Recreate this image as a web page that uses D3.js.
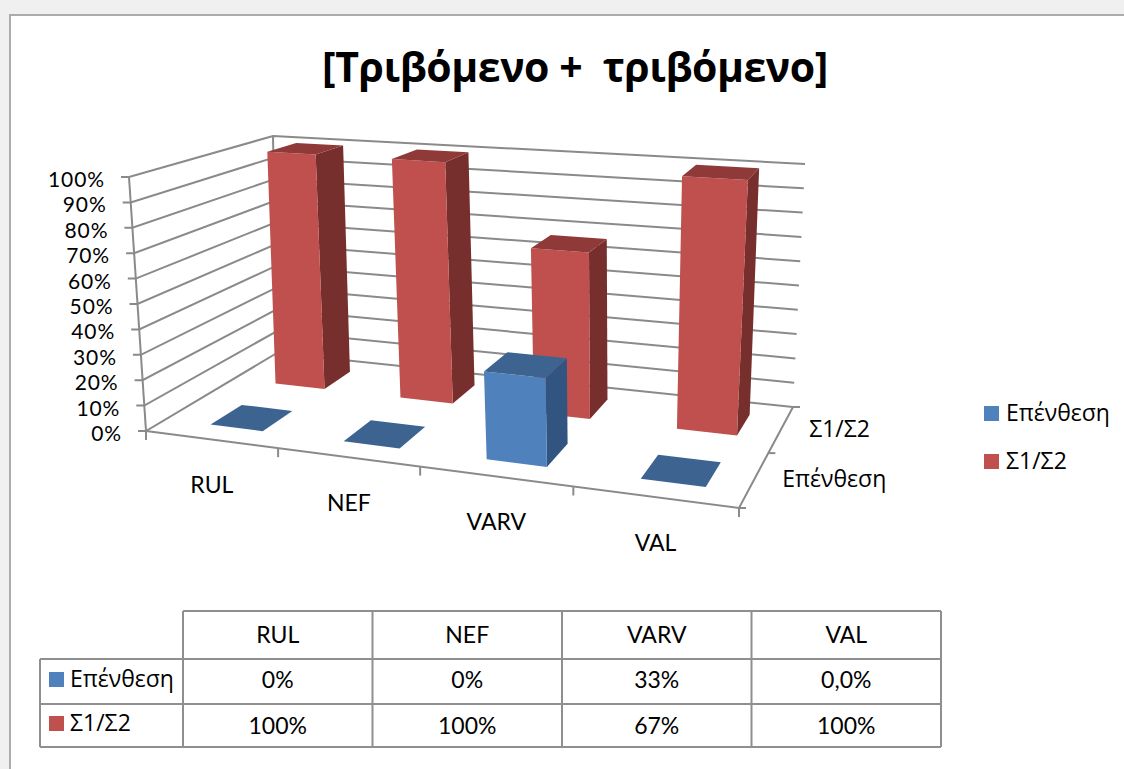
<!DOCTYPE html>
<html>
<head>
<meta charset="utf-8">
<script src="https://cdn.jsdelivr.net/npm/d3@7"></script>
<style>
  html, body { margin: 0; padding: 0; background: #f0f0f0; }
  svg { display: block; }
  text { font-family: "Open Sans", "Noto Sans", sans-serif; fill: #000; white-space: pre; }
  text.latin { font-family: Lato, "Open Sans", sans-serif; }
</style>
</head>
<body>
<script>
const categories = ["RUL", "NEF", "VARV", "VAL"];
const seriesNames = ["Επένθεση", "Σ1/Σ2"];
const epenthesi = [0, 0, 33, 0];
const s1s2 = [100, 100, 67, 100];
const epenthesiLabels = ["0%", "0%", "33%", "0,0%"];
const s1s2Labels = ["100%", "100%", "67%", "100%"];
const zTicks = [0, 10, 20, 30, 40, 50, 60, 70, 80, 90, 100];

const canvasW = 1124, canvasH = 769;
const labelSize = "23px";

const svg = d3.select("body").append("svg")
  .attr("width", canvasW)
  .attr("height", canvasH);

// chart sheet
svg.append("rect")
  .attr("x", 10).attr("y", 15)
  .attr("width", canvasW + 20).attr("height", canvasH + 20)
  .attr("fill", "white")
  .attr("stroke", "#ababab")
  .attr("stroke-width", 2);

svg.append("text")
  .attr("x", 575).attr("y", 82)
  .attr("text-anchor", "middle")
  .attr("font-size", "41px")
  .attr("font-weight", "bold")
  .attr("letter-spacing", "-0.45px")
  .text("[Τριβόμενο +  τριβόμενο]");

// unit square -> quad, corners in order (0,0) (1,0) (1,1) (0,1)
function quadMap(q) {
  const [p0, p1, p2, p3] = q;
  const dx1 = p1[0] - p2[0], dx2 = p3[0] - p2[0], sx = p0[0] - p1[0] + p2[0] - p3[0];
  const dy1 = p1[1] - p2[1], dy2 = p3[1] - p2[1], sy = p0[1] - p1[1] + p2[1] - p3[1];
  const det = dx1 * dy2 - dx2 * dy1;
  const g = (sx * dy2 - dx2 * sy) / det;
  const h = (dx1 * sy - sx * dy1) / det;
  const a = p1[0] - p0[0] + g * p1[0], b = p3[0] - p0[0] + h * p3[0], c = p0[0];
  const d = p1[1] - p0[1] + g * p1[1], e = p3[1] - p0[1] + h * p3[1], f = p0[1];
  return (u, v) => {
    const w = g * u + h * v + 1;
    return [(a * u + b * v + c) / w, (d * u + e * v + f) / w];
  };
}

const floorMap = quadMap([[146, 431], [739, 508], [793, 407], [277, 353]]);
const roofMap = quadMap([[129, 177], [759, 223], [805, 164], [273, 136]]);

const xScale = d3.scaleBand().domain(categories).range([0, 1]);
const depthScale = d3.scaleBand().domain(seriesNames).range([0, 1]);
const zScale = d3.scaleLinear().domain([0, 100]).range([0, 1]);

function project(u, v, z) {
  const a = floorMap(u, v), b = roofMap(u, v);
  return [a[0] + (b[0] - a[0]) * z, a[1] + (b[1] - a[1]) * z];
}

const line = d3.line();
const gridColor = "#8a8a8a";
const axes = svg.append("g").attr("fill", "none").attr("stroke", gridColor).attr("stroke-width", 2);

// walls
zTicks.forEach(t => {
  const z = zScale(t);
  const p = project(0, 0, z);
  axes.append("path").attr("d", line([[p[0] - 8, p[1]], p, project(0, 1, z), project(1, 1, z)]));
  // 21px so the line boxes stay inside the 25px tick spacing
  svg.append("text")
    .attr("class", "latin")
    .attr("x", p[0] - 24)
    .attr("y", p[1] + 10)
    .attr("text-anchor", "end")
    .attr("font-size", "21px")
    .attr("letter-spacing", "0.9px")
    .text(t + "%");
});
axes.append("path").attr("d", line([project(0, 0, 0), project(0, 0, 1)]));
axes.append("path").attr("d", line([project(0, 1, 0), project(0, 1, 1)]));

// floor edges and their ticks
axes.append("path").attr("d", line([project(0, 0, 0), project(1, 0, 0), project(1, 1, 0)]));
[0, 0.25, 0.5, 0.75, 1].forEach(u => {
  const p = project(u, 0, 0);
  axes.append("path").attr("d", line([p, [p[0], p[1] + 9]]));
});
[0, 0.5, 1].forEach(v => {
  const p = project(1, v, 0);
  axes.append("path").attr("d", line([p, [p[0] + 7, p[1]]]));
});

// category + depth labels
categories.forEach(c => {
  const p = project(xScale(c) + xScale.bandwidth() / 2, 0, 0);
  svg.append("text")
    .attr("class", "latin")
    .attr("x", p[0] + 1)
    .attr("y", p[1] + 54)
    .attr("text-anchor", "middle")
    .attr("font-size", labelSize)
    .text(c);
});
seriesNames.forEach(s => {
  const p = project(1, depthScale(s) + depthScale.bandwidth() / 2, 0);
  svg.append("text")
    .attr("x", p[0] + 28)
    .attr("y", p[1] + 8)
    .attr("font-size", labelSize)
    .text(s);
});

// bars, back row first so the blue ones sit in front
const barColors = {
  "Επένθεση": { front: "#4f81bd", side: "#325480", top: "#3d6491" },
  "Σ1/Σ2": { front: "#c0504d", side: "#772f2d", top: "#8f3a38" }
};
const seriesValues = { "Επένθεση": epenthesi, "Σ1/Σ2": s1s2 };
const padLeft = 0.35, padRight = 0.25;
const padDepth = 0.27;

const bars = svg.append("g");
["Σ1/Σ2", "Επένθεση"].forEach(s => {
  categories.forEach((c, i) => {
    const u0 = xScale(c) + xScale.bandwidth() * padLeft, u1 = xScale(c) + xScale.bandwidth() * (1 - padRight);
    const v0 = depthScale(s) + depthScale.bandwidth() * padDepth, v1 = depthScale(s) + depthScale.bandwidth() * (1 - padDepth);
    const z = zScale(seriesValues[s][i]);
    const col = barColors[s];
    if (z > 0) {
      bars.append("path").attr("fill", col.side)
        .attr("d", line([project(u1, v0, 0), project(u1, v1, 0), project(u1, v1, z), project(u1, v0, z)]) + "Z");
      bars.append("path").attr("fill", col.front)
        .attr("d", line([project(u0, v0, 0), project(u1, v0, 0), project(u1, v0, z), project(u0, v0, z)]) + "Z");
    }
    bars.append("path").attr("fill", col.top)
      .attr("d", line([project(u0, v0, z), project(u1, v0, z), project(u1, v1, z), project(u0, v1, z)]) + "Z");
  });
});

// legend
const legend = svg.append("g");
seriesNames.forEach((s, i) => {
  legend.append("rect")
    .attr("x", 984).attr("y", 406 + i * 48)
    .attr("width", 15).attr("height", 15)
    .attr("fill", barColors[s].front);
  legend.append("text")
    .attr("x", 1006).attr("y", 421 + i * 48)
    .attr("font-size", labelSize)
    .text(s);
});

// data table
const colScale = d3.scaleBand().domain(categories).range([183, 941]);
const rowY = [611, 659, 704, 747];
const table = svg.append("g").attr("stroke", "#8f8f8f").attr("stroke-width", 2).attr("fill", "none");
table.append("path").attr("d", line([[183, rowY[0]], [941, rowY[0]]]));
table.append("path").attr("d", line([[40, rowY[1]], [941, rowY[1]]]));
table.append("path").attr("d", line([[40, rowY[2]], [941, rowY[2]]]));
table.append("path").attr("d", line([[40, rowY[3]], [941, rowY[3]]]));
table.append("path").attr("d", line([[40, rowY[1]], [40, rowY[3]]]));
categories.forEach(c => {
  table.append("path").attr("d", line([[colScale(c), rowY[0]], [colScale(c), rowY[3]]]));
});
table.append("path").attr("d", line([[941, rowY[0]], [941, rowY[3]]]));

function cell(x, y, str) {
  svg.append("text")
    .attr("class", "latin")
    .attr("x", x).attr("y", y)
    .attr("text-anchor", "middle")
    .attr("font-size", labelSize)
    .text(str);
}
categories.forEach((c, i) => {
  const x = colScale(c) + colScale.bandwidth() / 2;
  cell(x, 643, c);
  cell(x, 688, epenthesiLabels[i]);
  cell(x, 734, s1s2Labels[i]);
});
seriesNames.forEach((s, i) => {
  const y = [672, 716][i];
  svg.append("rect")
    .attr("x", 49).attr("y", y)
    .attr("width", 15).attr("height", 15)
    .attr("fill", barColors[s].front);
  svg.append("text")
    .attr("x", 70).attr("y", y + 15)
    .attr("font-size", labelSize)
    .text(s);
});
</script>
</body>
</html>
